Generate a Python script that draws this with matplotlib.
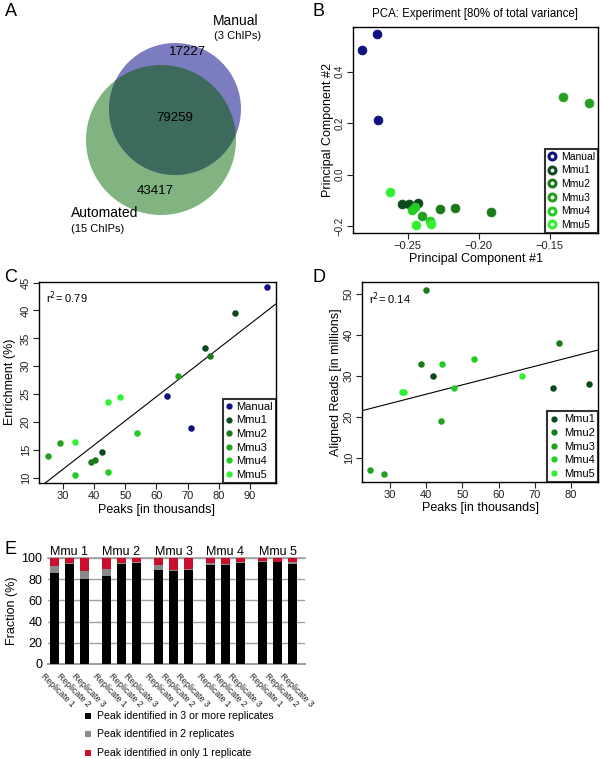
import matplotlib
matplotlib.use("Agg")
import matplotlib.pyplot as plt
from matplotlib.patches import Circle, Rectangle
from matplotlib.lines import Line2D
import numpy as np

plt.rcParams['font.family'] = ['Liberation Sans', 'DejaVu Sans']

W, H = 600, 759

# ---------------- data ----------------
venn_sets = ["Manual", "Automated"]
venn_sub = ["(3 ChIPs)", "(15 ChIPs)"]
venn_counts = [17227, 79259, 43417]  # manual only, both, automated only

groups = ["Manual", "Mmu1", "Mmu2", "Mmu3", "Mmu4", "Mmu5"]
group_colors = ["#101080", "#0f4a1f", "#1a7a1a", "#22a022", "#22cc22", "#33f033"]

pca_pc1 = [-0.2824, -0.2718, -0.2710,
           -0.2542, -0.2493, -0.2430,
           -0.2275, -0.2169, -0.1915,
           -0.1410, -0.1225, -0.2400,
           -0.2450, -0.2470, -0.2345,
           -0.2627, -0.2338, -0.2445]
pca_pc2 = [0.485, 0.547, 0.214,
           -0.116, -0.116, -0.112,
           -0.135, -0.131, -0.147,
           0.303, 0.280, -0.162,
           -0.124, -0.139, -0.182,
           -0.066, -0.193, -0.197]
pca_group = ["Manual"] * 3 + ["Mmu1"] * 3 + ["Mmu2"] * 3 + ["Mmu3"] * 3 + ["Mmu4"] * 3 + ["Mmu5"] * 3

enr_peaks = [95.5, 63.3, 71.0,
             85.2, 75.5, 42.5,
             77.1, 39.1, 40.4,
             66.8, 25.1, 29.0,
             53.7, 44.5, 34.0,
             44.5, 48.2, 34.0]
enr_value = [44.2, 24.7, 19.0,
             39.6, 33.2, 14.6,
             31.8, 12.9, 13.2,
             28.2, 14.0, 16.2,
             18.0, 11.0, 10.5,
             23.6, 24.5, 16.5]
enr_group = ["Manual"] * 3 + ["Mmu1"] * 3 + ["Mmu2"] * 3 + ["Mmu3"] * 3 + ["Mmu4"] * 3 + ["Mmu5"] * 3
enr_fit = [0.433, -1.42]   # slope, intercept
enr_r2 = "0.79"

rd_peaks = [41.9, 75.1, 85.0,
            40.0, 38.6, 76.7,
            24.5, 28.3, 44.0,
            44.2, 53.3, 47.7,
            66.5, 33.4, 33.8]
rd_value = [30, 27, 28,
            51, 33, 38,
            7, 6, 19,
            33, 34, 27,
            30, 26, 26]
rd_group = ["Mmu1"] * 3 + ["Mmu2"] * 3 + ["Mmu3"] * 3 + ["Mmu4"] * 3 + ["Mmu5"] * 3
rd_fit = [0.2266, 16.47]
rd_r2 = "0.14"

e_groups = ["Mmu 1", "Mmu 2", "Mmu 3", "Mmu 4", "Mmu 5"]
e_reps = ["Replicate 1", "Replicate 2", "Replicate 3"]
e_three = [86, 94, 80, 83, 94.6, 95.6, 88.7, 87.7, 89, 93.4, 93.7, 95.3, 96.5, 96, 94]
e_two = [6, 1, 8, 6.6, 0.9, 0.9, 4.3, 0.6, 0.6, 1.6, 0.6, 0.9, 1.0, 0.5, 2.0]
e_one = [100 - a - b for a, b in zip(e_three, e_two)]
e_legend = ["Peak identified in 3 or more replicates",
            "Peak identified in 2 replicates",
            "Peak identified in only 1 replicate"]
e_colors = ["#000000", "#8a8a8a", "#c8102e"]

# ---------------- helpers ----------------
fig = plt.figure(figsize=(W / 100, H / 100), dpi=100)


def ax_px(l, t, r, b):
    return fig.add_axes([l / W, 1 - b / H, (r - l) / W, (b - t) / H])


def ftext(x, y, s, **kw):
    fig.text(x / W, 1 - y / H, s, **kw)


def rstyle(ax):
    for sp in ax.spines.values():
        sp.set_linewidth(1.0)
        sp.set_color("black")
    ax.tick_params(direction="out", length=4, width=0.8, labelsize=7, colors="#222222", pad=2)
    for lab in ax.get_yticklabels():
        lab.set_rotation(90)
        lab.set_va("center")


col = dict(zip(groups, group_colors))

# ---------------- Panel A: Venn ----------------
axA = ax_px(0, 0, 300, 240)
axA.set_xlim(0, 300)
axA.set_ylim(240, 0)
axA.axis("off")
green = Circle((161, 140), 75, facecolor="#82b482", edgecolor="none")
purple = Circle((175, 109), 66, facecolor="#7c7cc0", edgecolor="none")
axA.add_patch(green)
axA.add_patch(purple)
over = Circle((175, 109), 66, facecolor="#3c6a5c", edgecolor="none")
axA.add_patch(over)
over.set_clip_path(green)
axA.text(187, 52, str(venn_counts[0]), fontsize=9.5, ha="center", va="center")
axA.text(175, 118, str(venn_counts[1]), fontsize=9.5, ha="center", va="center")
axA.text(155, 191, str(venn_counts[2]), fontsize=9.5, ha="center", va="center")
axA.text(213, 21, venn_sets[0], fontsize=10, ha="left", va="center")
axA.text(214, 36, venn_sub[0], fontsize=8, ha="left", va="center")
axA.text(71, 213, venn_sets[1], fontsize=10, ha="left", va="center")
axA.text(71, 229, venn_sub[1], fontsize=8, ha="left", va="center")

# ---------------- Panel B: PCA ----------------
axB = ax_px(353, 27, 598, 233)
for g in groups:
    xs = [x for x, gg in zip(pca_pc1, pca_group) if gg == g]
    ys = [y for y, gg in zip(pca_pc2, pca_group) if gg == g]
    axB.scatter(xs, ys, s=40, color=col[g], edgecolors=col[g], linewidths=0.6, zorder=3)
axB.set_xlim(-0.2887, -0.116)
axB.set_ylim(-0.227, 0.574)
axB.set_xticks([-0.25, -0.20, -0.15])
axB.set_xticklabels(["\u22120.25", "\u22120.20", "\u22120.15"])
axB.set_yticks([-0.2, 0.0, 0.2, 0.4])
axB.set_yticklabels(["\u22120.2", "0.0", "0.2", "0.4"])
rstyle(axB)
axB.tick_params(axis="x", labelsize=8)
handlesB = [Line2D([], [], marker="o", ls="none", mfc="white", mec=c, mew=2.2, ms=5) for c in group_colors]
legB = axB.legend(handlesB, groups, loc="lower right", borderaxespad=0, fontsize=7.5,
                  frameon=True, fancybox=False, handlelength=0.8, handletextpad=0.4,
                  labelspacing=0.35, borderpad=0.3)
legB.get_frame().set_edgecolor("black")
legB.get_frame().set_linewidth(1.5)
ftext(475, 14, "PCA: Experiment [80% of total variance]", fontsize=8.3, ha="center", va="center")
ftext(476, 259, "Principal Component #1", fontsize=9, ha="center", va="center")
ftext(328, 130, "Principal Component #2", fontsize=9, ha="center", va="center", rotation=90)

# ---------------- Panel C: Enrichment ----------------
axC = ax_px(39, 282, 276, 483)
for g in groups:
    xs = [x for x, gg in zip(enr_peaks, enr_group) if gg == g]
    ys = [y for y, gg in zip(enr_value, enr_group) if gg == g]
    axC.scatter(xs, ys, s=22, color=col[g], linewidths=0, zorder=3)
xlC = (22.3, 98.4)
xx = np.array(xlC)
axC.plot(xx, enr_fit[0] * xx + enr_fit[1], color="black", lw=0.8)
axC.set_xlim(*xlC)
axC.set_ylim(9.1, 45.1)
axC.set_xticks([30, 40, 50, 60, 70, 80, 90])
axC.set_yticks([10, 15, 20, 25, 30, 35, 40, 45])
rstyle(axC)
axC.tick_params(labelsize=8)
for lab in axC.get_yticklabels():
    lab.set_rotation(90)
    lab.set_va("center")
axC.text(0.03, 0.92, "r$^2$= " + enr_r2, transform=axC.transAxes, fontsize=8, ha="left", va="center")
handlesC = [Line2D([], [], marker="o", ls="none", color=c, ms=3.5) for c in group_colors]
legC = axC.legend(handlesC, groups, loc="lower right", borderaxespad=0, fontsize=8,
                  frameon=True, fancybox=False, handlelength=0.6, handletextpad=0.3,
                  labelspacing=0.32, borderpad=0.3)
legC.get_frame().set_edgecolor("black")
legC.get_frame().set_linewidth(1.5)
ftext(157, 510, "Peaks [in thousands]", fontsize=9, ha="center", va="center")
ftext(10, 382, "Enrichment (%)", fontsize=9, ha="center", va="center", rotation=90)

# ---------------- Panel D: Aligned reads ----------------
axD = ax_px(362, 282, 598, 482)
for g in groups[1:]:
    xs = [x for x, gg in zip(rd_peaks, rd_group) if gg == g]
    ys = [y for y, gg in zip(rd_value, rd_group) if gg == g]
    axD.scatter(xs, ys, s=22, color=col[g], linewidths=0, zorder=3)
xlD = (22.2, 87.5)
xx = np.array(xlD)
axD.plot(xx, rd_fit[0] * xx + rd_fit[1], color="black", lw=0.8)
axD.set_xlim(*xlD)
axD.set_ylim(4.1, 52.9)
axD.set_xticks([30, 40, 50, 60, 70, 80])
axD.set_yticks([10, 20, 30, 40, 50])
rstyle(axD)
axD.tick_params(labelsize=8)
for lab in axD.get_yticklabels():
    lab.set_rotation(90)
    lab.set_va("center")
axD.text(0.03, 0.915, "r$^2$= " + rd_r2, transform=axD.transAxes, fontsize=8, ha="left", va="center")
handlesD = [Line2D([], [], marker="o", ls="none", color=c, ms=3.5) for c in group_colors[1:]]
legD = axD.legend(handlesD, groups[1:], loc="lower right", borderaxespad=0, fontsize=8,
                  frameon=True, fancybox=False, handlelength=0.6, handletextpad=0.6,
                  labelspacing=0.32, borderpad=0.3)
legD.get_frame().set_edgecolor("black")
legD.get_frame().set_linewidth(1.5)
ftext(480, 508, "Peaks [in thousands]", fontsize=9, ha="center", va="center")
ftext(336, 382, "Aligned Reads [in millions]", fontsize=9, ha="center", va="center", rotation=90)

# ---------------- Panel E: stacked bars ----------------
axE = ax_px(48, 558, 305, 664)
pos = []
for gi in range(len(e_groups)):
    for ri in range(len(e_reps)):
        pos.append(gi * 3.4 + ri)
pos = np.array(pos)
bw = 0.6
axE.bar(pos, e_three, bw, color=e_colors[0], zorder=3)
axE.bar(pos, e_two, bw, bottom=e_three, color=e_colors[1], zorder=3)
axE.bar(pos, e_one, bw, bottom=np.array(e_three) + np.array(e_two), color=e_colors[2], zorder=3)
axE.set_xlim(-0.4, 16.4)
axE.set_ylim(0, 100)
axE.set_yticks([0, 20, 40, 60, 80, 100])
axE.yaxis.grid(True, color="#a0a0a0", lw=1.0, zorder=0)
for s in ["left", "right"]:
    axE.spines[s].set_visible(False)
axE.spines["top"].set_color("#a0a0a0")
axE.spines["top"].set_linewidth(1.2)
axE.spines["bottom"].set_color("#a0a0a0")
axE.spines["bottom"].set_linewidth(1.5)
axE.tick_params(axis="y", length=0, labelsize=9, pad=4)
axE.set_xticks([])
for p, i in zip(pos, range(len(pos))):
    axE.text(p - 0.55, -0.07, e_reps[i % 3], transform=axE.get_xaxis_transform(),
             rotation=-45, rotation_mode="anchor", ha="left", va="top", fontsize=6.2, color="#222222")
for gi, g in enumerate(e_groups):
    axE.text(gi * 3.4 + 1, 1.06, g, transform=axE.get_xaxis_transform(), ha="center", va="center", fontsize=9)
ftext(12, 611, "Fraction (%)", fontsize=9, ha="center", va="center", rotation=90)
for k, (lab, c) in enumerate(zip(e_legend, e_colors)):
    yy = [716, 734, 753][k]
    fig.add_artist(Rectangle(((85) / W, 1 - (yy + 3) / H), 6 / W, 6 / H, transform=fig.transFigure,
                             facecolor=c, edgecolor="none"))
    ftext(97, yy, lab, fontsize=7.6, ha="left", va="center")

# ---------------- panel letters ----------------
for L, (x, y) in zip("ABCDE", [(5, 12), (313, 12), (4, 278), (313, 278), (4, 549)]):
    ftext(x, y, L, fontsize=13, ha="left", va="center")

fig.savefig("out.png", dpi=100)
